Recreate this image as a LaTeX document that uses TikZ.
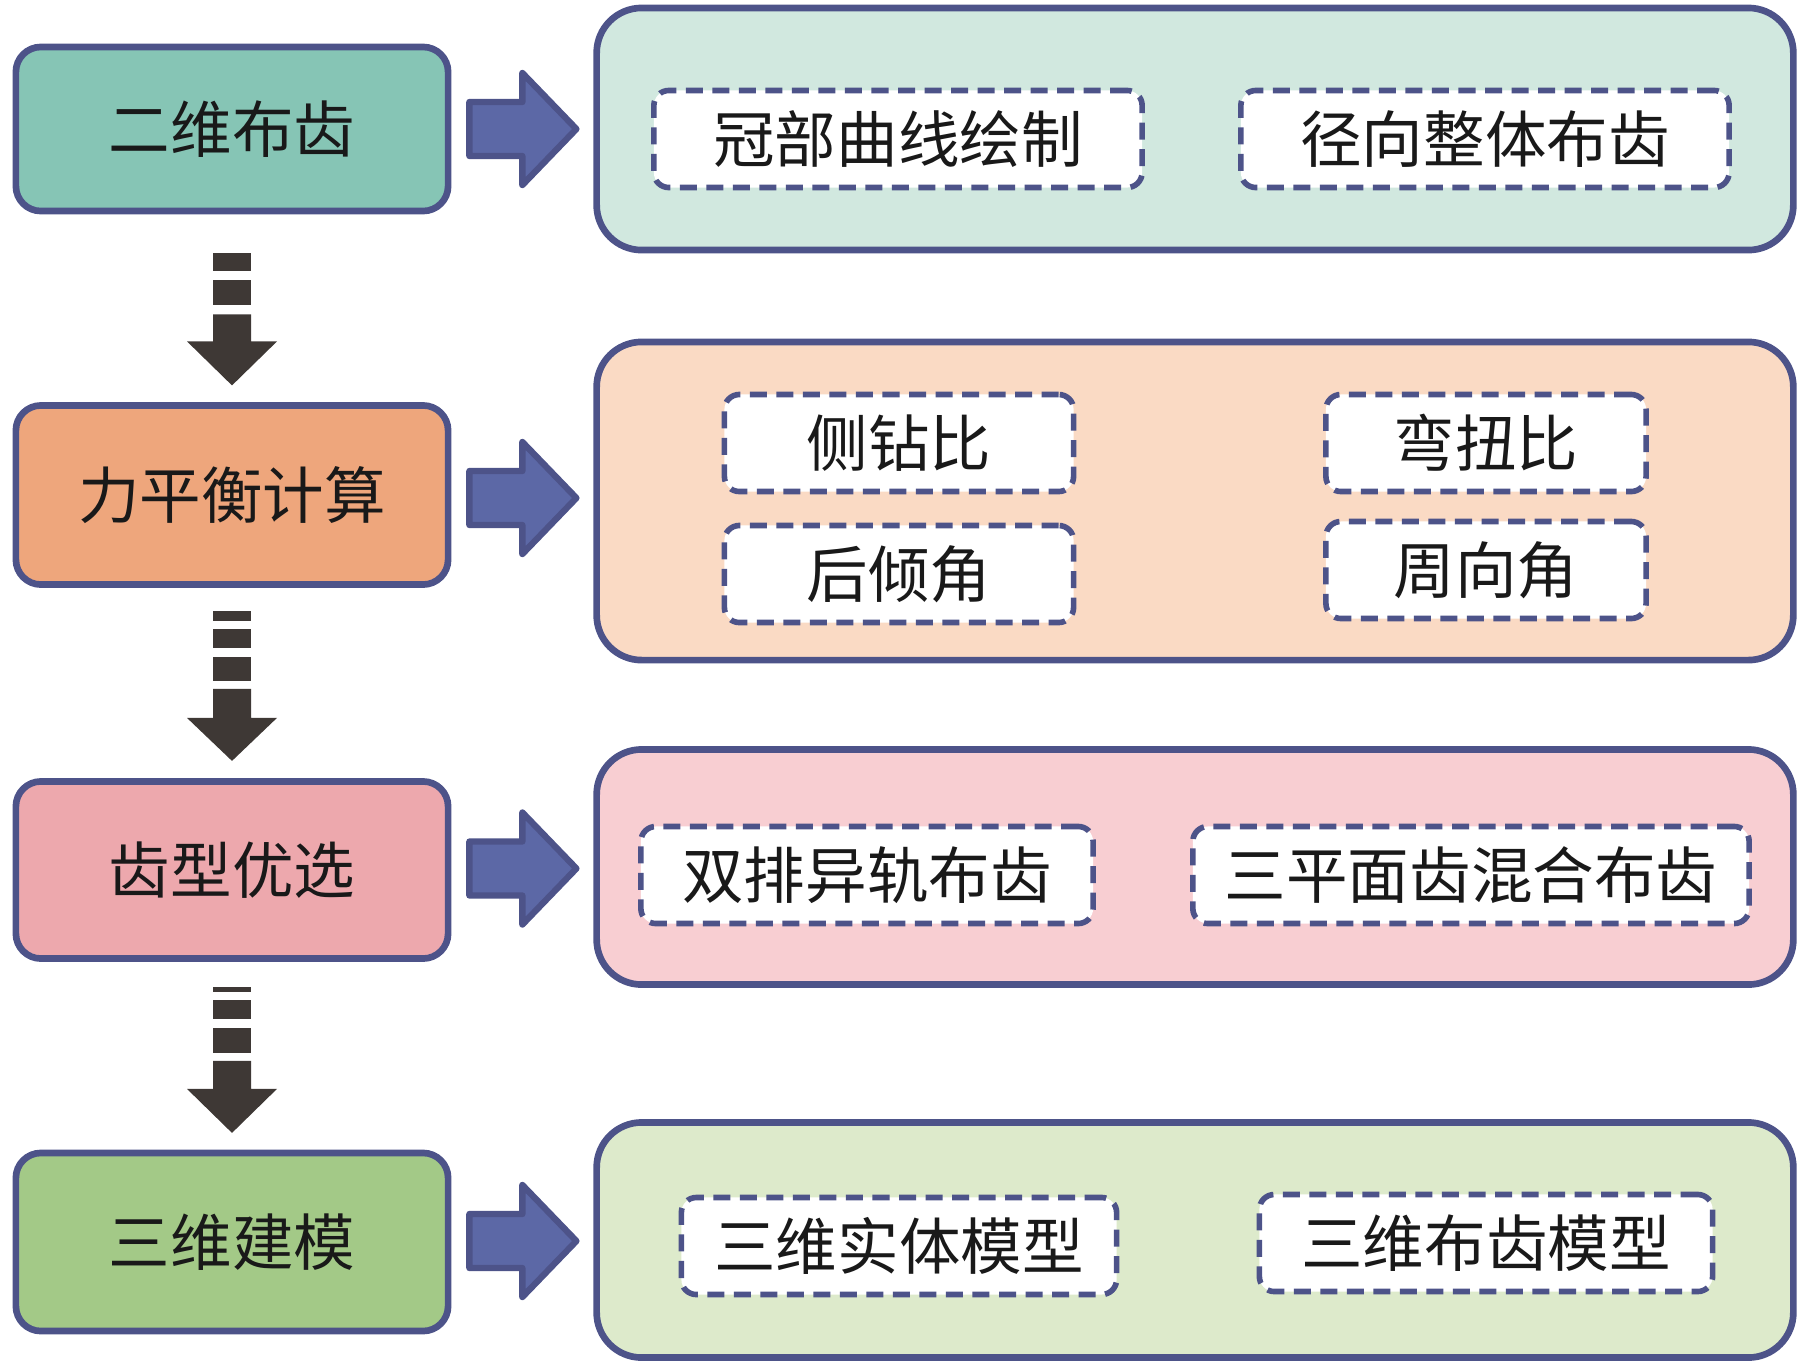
\documentclass[tikz,border=0pt]{standalone}
\usepackage{fontspec}
\setmainfont{Noto Sans CJK SC}
\usetikzlibrary{calc}
\definecolor{lineblue}{RGB}{77,83,137}
\definecolor{arrowblue}{RGB}{92,104,166}
\definecolor{darkarrow}{RGB}{62,56,53}
\definecolor{tealbox}{RGB}{134,197,181}
\definecolor{tealpanel}{RGB}{209,232,223}
\definecolor{orangebox}{RGB}{238,166,124}
\definecolor{orangepanel}{RGB}{250,218,196}
\definecolor{pinkbox}{RGB}{237,168,173}
\definecolor{pinkpanel}{RGB}{248,206,210}
\definecolor{greenbox}{RGB}{163,201,135}
\definecolor{greenpanel}{RGB}{221,234,203}
\begin{document}
\begin{tikzpicture}[
        x=0.01cm, y=-0.01cm,
        stage/.style={rectangle, rounded corners=0.25cm, draw=lineblue, line width=1.9pt, minimum width=4.32cm},
        panel/.style={rectangle, rounded corners=0.45cm, draw=lineblue, line width=1.9pt, minimum width=11.96cm},
        item/.style={rectangle, rounded corners=0.15cm, draw=lineblue, fill=white, line width=1.6pt, dash pattern=on 0.17cm off 0.095cm, minimum height=0.97cm},
        pointer/.style={draw=lineblue, fill=arrowblue, line width=1.8pt, line join=round},
        stripe/.style={fill=darkarrow},
        every node/.style={font=\fontsize{17.5pt}{20pt}\selectfont, text=black!90}
        ]
      \useasboundingbox (0,0) rectangle (1799,1363);
      % right-hand panels
      \node[panel, fill=tealpanel, minimum height=2.42cm] (p1) at (1195,129) {};
      \node[panel, fill=orangepanel, minimum height=3.18cm] (p2) at (1195,501) {};
      \node[panel, fill=pinkpanel, minimum height=2.35cm] (p3) at (1195,867) {};
      \node[panel, fill=greenpanel, minimum height=2.35cm] (p4) at (1195,1240) {};
      % items
      \node[item, minimum width=4.88cm] (crown) at (898,139) {冠部曲线绘制};
      \node[item, minimum width=4.88cm] (radial) at (1485,139) {径向整体布齿};
      \node[item, minimum width=3.49cm] (side) at (899,443) {侧钻比};
      \node[item, minimum width=3.20cm] (bend) at (1486,443) {弯扭比};
      \node[item, minimum width=3.49cm] (back) at (899,574) {后倾角};
      \node[item, minimum width=3.20cm] (circ) at (1486,570) {周向角};
      \node[item, minimum width=4.52cm] (dual) at (867,875) {双排异轨布齿};
      \node[item, minimum width=5.56cm] (tri) at (1471,875) {三平面齿混合布齿};
      \node[item, minimum width=4.35cm] (solid) at (899,1246) {三维实体模型};
      \node[item, minimum width=4.53cm] (teeth) at (1486,1243) {三维布齿模型};
      % left-hand stages
      \node[stage, fill=tealbox, minimum height=1.64cm] (b1) at (232,129) {二维布齿};
      \node[stage, fill=orangebox, minimum height=1.79cm] (b2) at (232,495) {力平衡计算};
      \node[stage, fill=pinkbox, minimum height=1.77cm] (b3) at (232,870) {齿型优选};
      \node[stage, fill=greenbox, minimum height=1.78cm] (b4) at (232,1242) {三维建模};
      % block arrows to the panels
      \coordinate (r1) at ($(b1.east)!0.5!(p1.west)$);
      \coordinate (r2) at ($(b2.east)!0.5!(p2.west)$);
      \coordinate (r3) at ($(b3.east)!0.5!(p3.west)$);
      \coordinate (r4) at ($(b4.east)!0.5!(p4.west)$);
      \draw[pointer] ($(r1)+(-53,-27)$) -- ++(53,0) -- ++(0,-29) -- ++(54,56) -- ++(-54,56) -- ++(0,-29) -- ++(-53,0) -- cycle;
      \draw[pointer] ($(r2)+(-53,-27)$) -- ++(53,0) -- ++(0,-29) -- ++(54,56) -- ++(-54,56) -- ++(0,-29) -- ++(-53,0) -- cycle;
      \draw[pointer] ($(r3)+(-53,-27)$) -- ++(53,0) -- ++(0,-29) -- ++(54,56) -- ++(-54,56) -- ++(0,-29) -- ++(-53,0) -- cycle;
      \draw[pointer] ($(r4)+(-53,-27)$) -- ++(53,0) -- ++(0,-29) -- ++(54,56) -- ++(-54,56) -- ++(0,-29) -- ++(-53,0) -- cycle;
      % striped arrows between the stages
      \coordinate (d1) at (b1.south);
      \coordinate (d2) at (b2.south);
      \coordinate (d3) at (b3.south);
      \fill[stripe] ($(d1)+(-19,39)$) rectangle ($(d1)+(19,57)$);
      \fill[stripe] ($(d1)+(-19,66)$) rectangle ($(d1)+(19,91)$);
      \fill[stripe] ($(d1)+(-19,100)$) -- ++(38,0) -- ++(0,27) -- ++(26,0) -- ++(-45,44) -- ++(-45,-44) -- ++(26,0) -- cycle;
      \fill[stripe] ($(d2)+(-19,23)$) rectangle ($(d2)+(19,33)$);
      \fill[stripe] ($(d2)+(-19,41)$) rectangle ($(d2)+(19,60)$);
      \fill[stripe] ($(d2)+(-19,69)$) rectangle ($(d2)+(19,93)$);
      \fill[stripe] ($(d2)+(-19,101)$) -- ++(38,0) -- ++(0,29) -- ++(26,0) -- ++(-45,43) -- ++(-45,-43) -- ++(26,0) -- cycle;
      \fill[stripe] ($(d3)+(-19,25)$) rectangle ($(d3)+(19,30)$);
      \fill[stripe] ($(d3)+(-19,38)$) rectangle ($(d3)+(19,57)$);
      \fill[stripe] ($(d3)+(-19,66)$) rectangle ($(d3)+(19,91)$);
      \fill[stripe] ($(d3)+(-19,99)$) -- ++(38,0) -- ++(0,28) -- ++(26,0) -- ++(-45,44) -- ++(-45,-44) -- ++(26,0) -- cycle;
    \end{tikzpicture}
\end{document}
